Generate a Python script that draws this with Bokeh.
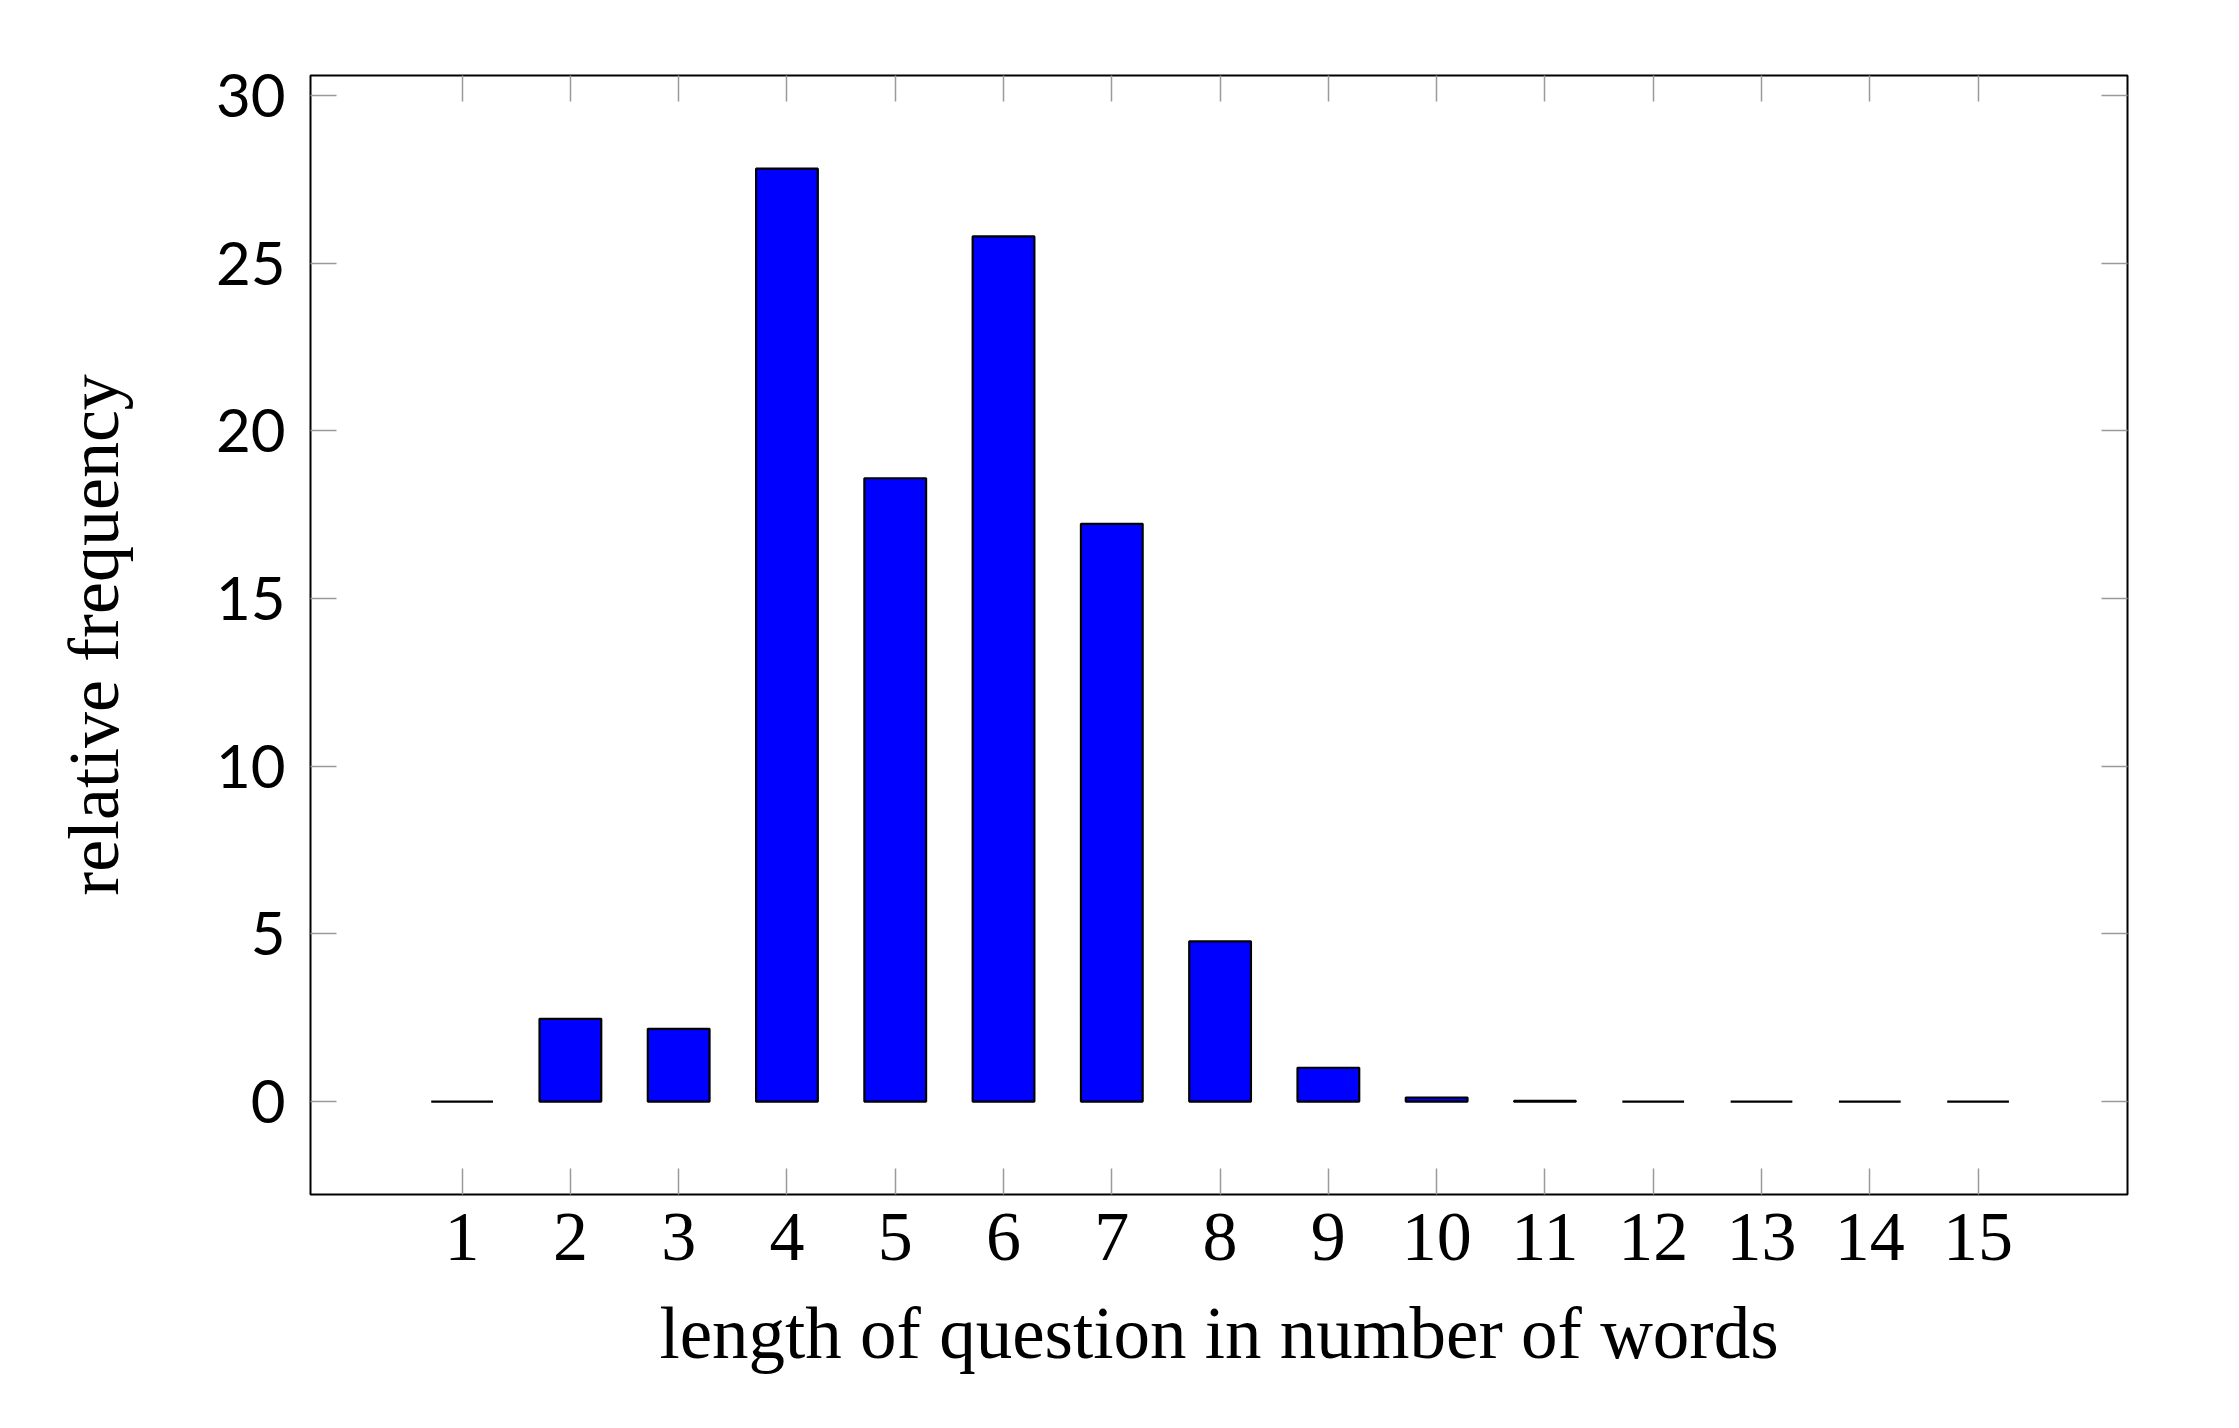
from bokeh.plotting import figure
from bokeh.models import Range1d, FixedTicker, LinearAxis, ColumnDataSource
from bokeh.embed import file_html
from bokeh.resources import INLINE

# ---- data ----
question_lengths = [1, 2, 3, 4, 5, 6, 7, 8, 9, 10, 11, 12, 13, 14, 15]
relative_frequency = [0.0, 2.47, 2.17, 27.82, 18.59, 25.80, 17.23, 4.78, 1.01, 0.12, 0.02, 0.0, 0.0, 0.0, 0.0]
y_ticks = [0, 5, 10, 15, 20, 25, 30]
x_label = "length of question in number of words"
y_label = "relative frequency"

SERIF = "Liberation Serif"
SANS = "Lato"
TICK_COLOR = "#9a9a9a"

source = ColumnDataSource(dict(x=question_lengths, top=relative_frequency))

p = figure(width=2228, height=1418, output_backend="svg", toolbar_location=None,
           x_range=Range1d(-0.40, 16.38), y_range=Range1d(-2.77, 30.6),
           min_border_left=310, min_border_right=101, min_border_top=75, min_border_bottom=224)

p.vbar(x="x", top="top", bottom=0, width=0.57, source=source,
       fill_color="#0000ff", line_color="black", line_width=2.2)

p.xgrid.grid_line_color = None
p.ygrid.grid_line_color = None
p.outline_line_color = "black"
p.outline_line_width = 2
p.outline_line_alpha = 1.0

def style_axis(ax, ticks):
    ax.ticker = FixedTicker(ticks=ticks)
    ax.axis_line_color = None
    ax.major_tick_in = 26
    ax.major_tick_out = 0
    ax.major_tick_line_color = TICK_COLOR
    ax.major_tick_line_width = 1.5
    ax.minor_tick_line_color = None

xa = p.xaxis[0]
style_axis(xa, question_lengths)
xa.major_label_text_font = SERIF
xa.major_label_text_font_size = "70px"
xa.major_label_text_color = "black"
xa.major_label_standoff = 19
xa.axis_label = x_label
xa.axis_label_text_font = SERIF
xa.axis_label_text_font_style = "normal"
xa.axis_label_text_font_size = "73px"
xa.axis_label_text_color = "black"
xa.axis_label_standoff = 30

ya = p.yaxis[0]
style_axis(ya, y_ticks)
ya.major_label_text_font = SANS
ya.major_label_text_font_size = "60px"
ya.major_label_text_color = "black"
ya.major_label_standoff = 25
ya.axis_label = y_label
ya.axis_label_text_font = SERIF
ya.axis_label_text_font_style = "normal"
ya.axis_label_text_font_size = "72px"
ya.axis_label_text_color = "black"
ya.axis_label_standoff = 79

top_ax = LinearAxis()
style_axis(top_ax, question_lengths)
top_ax.major_label_overrides = {t: "" for t in question_lengths}
top_ax.major_label_text_font_size = "1px"
top_ax.major_label_standoff = 0
p.add_layout(top_ax, "above")

right_ax = LinearAxis()
style_axis(right_ax, y_ticks)
right_ax.major_label_overrides = {t: "" for t in y_ticks}
right_ax.major_label_text_font_size = "1px"
right_ax.major_label_standoff = 0
p.add_layout(right_ax, "right")

open("out.html", "w").write(file_html(p, INLINE))
